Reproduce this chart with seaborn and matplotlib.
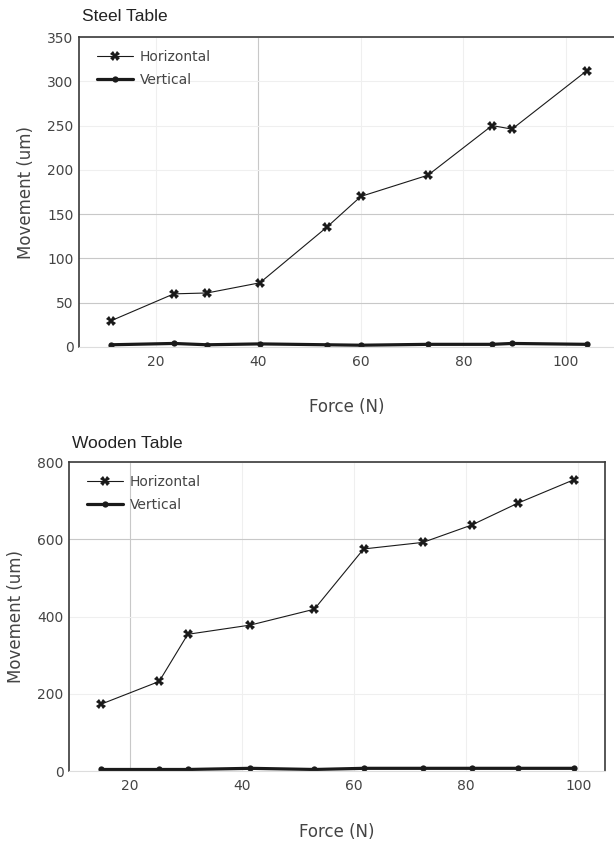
import pandas as pd
import matplotlib
matplotlib.use("Agg")
import matplotlib.pyplot as plt
import seaborn as sns

# values
steel_force = [11.2, 23.5, 30.0, 40.3, 53.4, 60.0, 73.1, 85.6, 89.5, 104.1]
steel_horizontal = [29.5, 60, 61, 72.5, 135.5, 170, 194, 250, 246, 312]
steel_vertical = [2.5, 4.0, 2.5, 3.5, 2.5, 2.0, 3.0, 3.0, 4.0, 3.0]

wood_force = [14.8, 25.2, 30.3, 41.5, 52.9, 61.7, 72.3, 81.0, 89.3, 99.2]
wood_horizontal = [173, 232, 354, 378, 419, 575, 592, 637, 694, 754]
wood_vertical = [4, 4, 4, 7, 4, 7, 7, 7, 7, 7]

steel_yticks = [0, 50, 100, 150, 200, 250, 300, 350]
wood_yticks = [0, 200, 400, 600, 800]
xticks = [20, 40, 60, 80, 100]

LINE = "#1a1a1a"
TEXT = "#444444"
SPINE = "#3a3a3a"


def draw_table(ax, force, horiz, vert, title, yticks, xlim, strong_x, strong_y, right_spine):
    df_h = pd.DataFrame({"force": force, "movement": horiz})
    df_v = pd.DataFrame({"force": force, "movement": vert})
    sns.lineplot(data=df_h, x="force", y="movement", ax=ax, color=LINE, linewidth=0.8,
                 marker="X", markersize=6.5, markeredgewidth=0, label="Horizontal")
    sns.lineplot(data=df_v, x="force", y="movement", ax=ax, color=LINE, linewidth=2.3,
                 marker="o", markersize=4.5, markeredgewidth=0, label="Vertical")

    ax.set_xlim(*xlim)
    ax.set_ylim(yticks[0], yticks[-1])
    ax.set_xticks(xticks)
    ax.set_yticks(yticks)
    ax.tick_params(axis="both", length=0, labelsize=10, labelcolor=TEXT)
    ax.tick_params(axis="y", pad=4)
    ax.tick_params(axis="x", pad=6)

    ax.grid(True, color="#efefef", linewidth=0.8)
    for val, gl in zip(xticks, ax.xaxis.get_gridlines()):
        if val in strong_x:
            gl.set_color("#c8c8c8")
    for val, gl in zip(yticks, ax.yaxis.get_gridlines()):
        if val in strong_y:
            gl.set_color("#c8c8c8")
    ax.set_axisbelow(True)

    ax.set_xlabel("Force (N)", fontsize=12, color=TEXT, labelpad=21)
    ax.set_ylabel("Movement (um)", fontsize=12, color=TEXT, labelpad=9)
    ax.set_title(title, loc="left", fontsize=12.5, color="#222222",
                 family="Liberation Sans", pad=10, x=0.006)

    for side in ["left", "top"]:
        ax.spines[side].set_color(SPINE)
        ax.spines[side].set_linewidth(1.2)
    ax.spines["bottom"].set_color("#dddddd")
    ax.spines["bottom"].set_linewidth(0.8)
    if right_spine:
        ax.spines["right"].set_color(SPINE)
        ax.spines["right"].set_linewidth(1.2)
    else:
        ax.spines["right"].set_visible(False)

    leg = ax.legend(loc="upper left", bbox_to_anchor=(0.033, 0.958), frameon=False,
                    fontsize=10, borderpad=0, borderaxespad=0, labelspacing=0.62,
                    handlelength=2.6, handletextpad=0.5)
    for t in leg.get_texts():
        t.set_color(TEXT)


sns.set_theme(style="white")
plt.rcParams["font.family"] = ["DejaVu Sans"]

fig = plt.figure(figsize=(6.14, 8.41), dpi=100)
ax1 = fig.add_axes([0.1287, 0.5874, 0.8713, 0.3686])
ax2 = fig.add_axes([0.1124, 0.0832, 0.8730, 0.3674])

draw_table(ax1, steel_force, steel_horizontal, steel_vertical, "Steel Table",
           steel_yticks, (5.0, 109.4), [40], [50, 100, 150], False)
draw_table(ax2, wood_force, wood_horizontal, wood_vertical, "Wooden Table",
           wood_yticks, (9.1, 104.8), [20], [600], True)
ax1.title.set_y(1.0)
ax1.set_title("Steel Table", loc="left", fontsize=12.5, color="#222222",
              family="Liberation Sans", pad=11.5, x=0.006)

fig.savefig("out.png", dpi=100, facecolor="white")
